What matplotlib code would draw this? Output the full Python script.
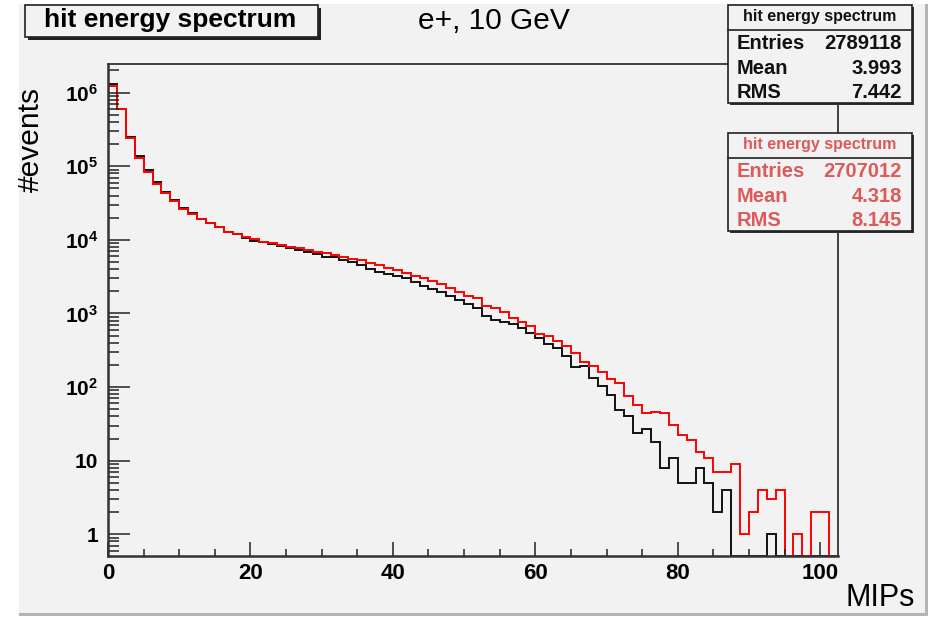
import numpy as np
import matplotlib
matplotlib.use('Agg')
import matplotlib.pyplot as plt
from matplotlib.patches import Rectangle
from matplotlib.ticker import MultipleLocator, FixedLocator, FuncFormatter, NullFormatter

plt.rcParams['font.family'] = ['Liberation Sans', 'DejaVu Sans']
plt.rcParams['mathtext.fontset'] = 'custom'
plt.rcParams['mathtext.rm'] = 'Liberation Sans:bold'
plt.rcParams['mathtext.bf'] = 'Liberation Sans:bold'
plt.rcParams['mathtext.it'] = 'Liberation Sans:bold'

# ---- data, bins of 1.25 MIP starting at 0 ----
bin_width = 1.25
black_counts = [1312000, 594000, 250000, 139000, 89100, 61200, 44400, 34800, 27400, 23000,
                19100, 16800, 14800, 12900, 12100, 10600, 9750, 9330, 8890, 8340,
                7830, 7230, 6920, 6370, 5860, 5800, 5380, 5060, 4520, 4060,
                3700, 3400, 3200, 3010, 2650, 2340, 2150, 1980, 1750, 1540,
                1330, 1180, 933, 817, 760, 713, 630, 538, 460, 382,
                344, 267, 189, 194, 132, 104, 78, 49, 40, 24,
                27, 18, 8, 11, 5, 5, 8, 5, 2, 4,
                0, 0, 0, 0, 1, 0, 0, 0, 0, 0,
                0, 0]
red_counts = [1245000, 594000, 245000, 131000, 82800, 57500, 43500, 33400, 26300, 22300,
              19100, 16800, 14800, 12900, 12100, 11100, 10200, 9440, 9160, 8530,
              8020, 7690, 7290, 6850, 6580, 6300, 5920, 5560, 5270, 4900,
              4560, 4190, 3860, 3550, 3270, 3010, 2770, 2520, 2240, 1980,
              1750, 1610, 1280, 1180, 1050, 881, 767, 668, 530, 500,
              425, 361, 293, 219, 195, 159, 128, 115, 76, 57,
              45, 46, 45, 31, 22, 19, 13, 11, 7, 7,
              9, 1, 2, 4, 3, 4, 0, 1, 0, 2,
              2, 0]

stats_black = ["2789118", "3.993", "7.442"]
stats_red = ["2707012", "4.318", "8.145"]
stat_names = ["Entries", "Mean", "RMS"]
y_ticks = [1, 10, 1e2, 1e3, 1e4, 1e5, 1e6]

GRAY = '#f2f2f2'
W, H = 937, 618
y_lo, y_hi = 0.507, 2.45e6

fig = plt.figure(figsize=(W / 100, H / 100), dpi=100)
fig.patch.set_facecolor('white')

# canvas background
bg = fig.add_axes([0, 0, 1, 1], zorder=0)
bg.set_xlim(0, W)
bg.set_ylim(H, 0)
bg.axis('off')
bg.add_patch(Rectangle((19, 4), 909, 612, facecolor='#b4b4b4', edgecolor='none'))
bg.add_patch(Rectangle((19, 4), 906, 609, facecolor=GRAY, edgecolor='none'))

# main frame
ax = fig.add_axes([108 / W, 1 - 556 / H, 730 / W, 492 / H], zorder=1)
ax.set_facecolor(GRAY)
edges = np.arange(len(black_counts) + 1) * bin_width
b = np.array(black_counts, dtype=float)
r = np.array(red_counts, dtype=float)
ax.stairs(np.where(b > 0, b, y_lo), edges, baseline=None, color='#111111', lw=1.4, clip_on=False)
ax.stairs(np.where(r > 0, r, y_lo), edges, baseline=None, color='#ff0000', lw=1.4, clip_on=False)

ax.set_yscale('log')
ax.set_xlim(edges[0], edges[-1])
ax.set_ylim(y_lo, y_hi)

for s in ax.spines.values():
    s.set_color('#333333')
    s.set_linewidth(1.3)
ax.spines['left'].set_linewidth(1.8)
ax.spines['bottom'].set_linewidth(1.8)

ax.xaxis.set_major_locator(MultipleLocator(20))
ax.xaxis.set_minor_locator(MultipleLocator(5))
ax.yaxis.set_major_locator(FixedLocator(y_ticks))
minor = [m * 10.0 ** e for e in range(-1, 7) for m in range(2, 10)
         if y_lo <= m * 10.0 ** e <= y_hi]
ax.yaxis.set_minor_locator(FixedLocator(minor))
ax.yaxis.set_minor_formatter(NullFormatter())


def ylab(v, pos):
    e = int(round(np.log10(v)))
    if e == 0:
        return '1'
    if e == 1:
        return '10'
    return r'$10^{%d}$' % e


ax.yaxis.set_major_formatter(FuncFormatter(ylab))
ax.tick_params(which='both', direction='in', color='#222222', width=1.1,
               top=False, right=False)
ax.tick_params(axis='y', which='major', length=16, pad=7, labelsize=15)
ax.tick_params(axis='y', which='minor', length=8)
ax.tick_params(axis='x', which='major', length=10, pad=5, labelsize=16)
ax.tick_params(axis='x', which='minor', length=5)
for lab in ax.get_xticklabels() + ax.get_yticklabels():
    lab.set_fontweight('bold')

# overlay: title, labels and stat boxes in pixel coordinates
ov = fig.add_axes([0, 0, 1, 1], zorder=2)
ov.set_xlim(0, W)
ov.set_ylim(H, 0)
ov.axis('off')

ov.add_patch(Rectangle((28, 8), 293, 32, facecolor='#222222', edgecolor='none'))
ov.add_patch(Rectangle((25, 5), 293, 32, facecolor=GRAY, edgecolor='#222222', lw=1.2))
ov.text(170, 27.5, 'hit energy spectrum', ha='center', va='baseline',
        fontsize=19, fontweight='bold')
ov.text(418, 29, 'e+, 10 GeV', ha='left', va='baseline', fontsize=21.5)

ov.text(31, 140, '#events', rotation=90, ha='center', va='center', fontsize=21.5)
ov.text(915, 606, 'MIPs', ha='right', va='baseline', fontsize=22)


def stat_box(y0, vals, color):
    ov.add_patch(Rectangle((730, y0 + 2), 184, 98, facecolor='#333333', edgecolor='none'))
    ov.add_patch(Rectangle((728, y0), 184, 98, facecolor=GRAY, edgecolor='#222222', lw=1.2))
    ov.plot([728, 912], [y0 + 25, y0 + 25], color='#222222', lw=1.2)
    ov.text(820, y0 + 12, 'hit energy spectrum', ha='center', va='center',
            fontsize=11.5, fontweight='bold', color=color)
    for i, (name, v) in enumerate(zip(stat_names, vals)):
        yy = y0 + 38.5 + i * 24.5
        ov.text(737, yy, name, ha='left', va='center', fontsize=14.5,
                fontweight='bold', color=color)
        ov.text(902, yy, v, ha='right', va='center', fontsize=14.5,
                fontweight='bold', color=color)


stat_box(5, stats_black, '#111111')
stat_box(133, stats_red, '#dc5a5a')

fig.savefig('out.png', dpi=100, facecolor='white')
